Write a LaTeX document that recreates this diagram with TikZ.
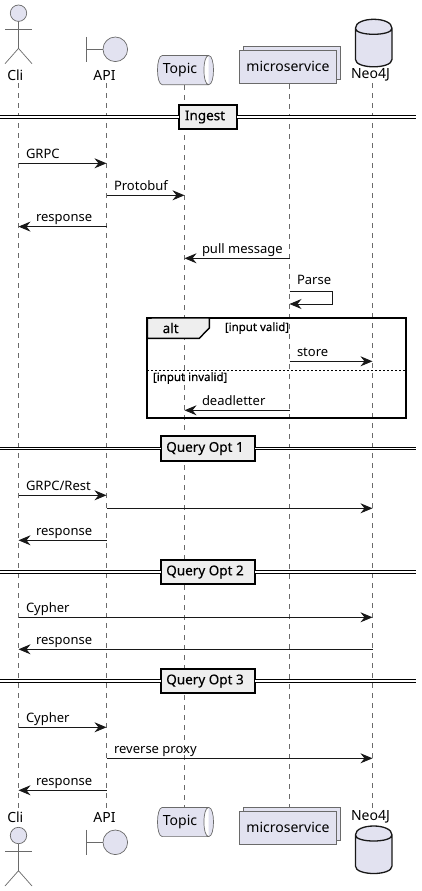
\documentclass[tikz,border=0pt]{standalone}
\usepackage{fontspec}
\setmainfont{Noto Sans}
\newfontfamily\heavyfont{Noto Sans}[FakeBold=0.35]
\usetikzlibrary{arrows.meta,shadows}

\definecolor{partfill}{HTML}{E2E2F0}
\definecolor{partline}{HTML}{6A6A6A}
\definecolor{inkline}{HTML}{181818}
\definecolor{sepfill}{HTML}{EEEEEE}

\tikzset{
	every node/.style={inner sep=0pt,outer sep=0pt,font=\fontsize{13}{15}\selectfont,text=black},
	partlabel/.style={font=\fontsize{14}{16}\selectfont},
	lifeline/.style={draw=partline,line width=.7pt,dash pattern=on 5pt off 5pt},
	msg/.style={draw=inkline,line width=1pt,-{Stealth[length=12pt,width=10pt,inset=4pt]}},
	msglabel/.style={anchor=base west,xshift=7.5pt,yshift=5pt},
	backlabel/.style={anchor=base west,xshift=17.5pt,yshift=5pt},
	divider/.style={draw=black,line width=1pt,double=white,double distance=1.6pt},
	sepbox/.style={draw=black,line width=1.8pt,fill=sepfill,font=\heavyfont\fontsize{13.5}{15}\selectfont,minimum height=24.5pt,execute at end node=\hspace{6pt}},
	guard/.style={font=\heavyfont\fontsize{11.5}{13}\selectfont},
	serviceshape/.style={draw=partline,line width=.7pt,fill=partfill,minimum width=97pt,minimum height=33pt,partlabel,
		copy shadow={fill=partfill,draw=partline,shadow xshift=4pt,shadow yshift=4pt}},
	pics/actor/.style={code={
		\node[circle,draw=partline,line width=.7pt,fill=partfill,minimum size=16.4pt] (#1) at (0,0) {};
		\draw[partline,line width=.7pt] (#1.south) -- ++(0,27) ++(-13.5,15.3) -- ++(13.5,-15.3) -- ++(13.5,15.3);
		\draw[partline,line width=.7pt] (-13.5,16) -- (13.5,16);
	}},
	pics/boundary/.style={code={
		\node[circle,draw=partline,line width=.7pt,fill=partfill,minimum size=24.6pt] (#1) at (8.8,0) {};
		\draw[partline,line width=.7pt] (-19.8,-12.5) -- (-19.8,12.5) (-19.8,0) -- (#1.west);
	}},
	pics/queue/.style={code={
		\draw[partline,line width=.7pt,fill=partfill] (-23.2,-14.6) -- (23.2,-14.6) .. controls (29.6,-14.6) and (29.6,14.6) .. (23.2,14.6)
			-- (-23.2,14.6) .. controls (-29.6,14.6) and (-29.6,-14.6) .. (-23.2,-14.6) -- cycle
			(23.2,-14.6) .. controls (16.8,-14.6) and (16.8,14.6) .. (23.2,14.6);
		\node[partlabel] (#1) at (-5.5,0) {Topic};
	}},
	pics/database/.style={code={
		\fill[partfill] (-18.3,9) .. controls (-18.3,-3) and (18.3,-3) .. (18.3,9) -- (18.3,40)
			.. controls (18.3,50) and (-18.3,50) .. (-18.3,40) -- cycle;
		\draw[inkline,line width=1.3pt] (-18.3,9) .. controls (-18.3,-3) and (18.3,-3) .. (18.3,9) -- (18.3,40)
			.. controls (18.3,50) and (-18.3,50) .. (-18.3,40) -- cycle
			(-18.3,9) .. controls (-18.3,17) and (18.3,17) .. (18.3,9);
	}},
}

\begin{document}
\begin{tikzpicture}[x=1pt,y=-1pt]
	\useasboundingbox[fill=white] (0,0) rectangle (421,891);

	% lifelines
	\coordinate (cli_t) at (18.5,83);
	\coordinate (cli_b) at (18.5,808);
	\coordinate (api_t) at (106.5,83);
	\coordinate (api_b) at (106.5,808);
	\coordinate (topic_t) at (184.5,85);
	\coordinate (topic_b) at (184.5,807);
	\coordinate (micro_t) at (289.5,84);
	\coordinate (micro_b) at (289.5,808);
	\coordinate (neo_t) at (372.5,83);
	\coordinate (neo_b) at (372.5,808);
	\foreach \who in {cli,api,topic,micro,neo}
		\draw[lifeline] (\who_t) -- (\who_b);

	% participants, top
	\pic at (18.5,13.2) {actor=cli_head};
	\node[partlabel] (cli_top) at (15.3,75) {Cli};
	\pic at (106.5,49.3) {boundary=api_head};
	\node[partlabel] (api_top) at (104.5,75) {API};
	\pic at (185.5,70.1) {queue=topic_top};
	\node[serviceshape] (micro_top) at (288,66.8) {microservice};
	\pic at (373.7,19.3) {database=neo_head};
	\node[partlabel] (neo_top) at (370.5,75) {Neo4J};

	% participants, bottom
	\pic at (18.5,835.5) {actor=cli_foot};
	\node[partlabel] (cli_bot) at (15.3,817) {Cli};
	\pic at (106.5,842.3) {boundary=api_foot};
	\node[partlabel] (api_bot) at (104.5,817) {API};
	\pic at (185.5,822) {queue=topic_bot};
	\node[serviceshape] (micro_bot) at (288,827.8) {microservice};
	\pic at (373.7,826) {database=neo_foot};
	\node[partlabel] (neo_bot) at (370.5,817) {Neo4J};

	% separators
	\coordinate (side_l) at (0,0);
	\coordinate (side_r) at (416,0);
	\node[sepbox,minimum width=58.5pt] (ingest) at (208,117) {Ingest};
	\node[sepbox,minimum width=94.5pt] (opt_a) at (208,448.5) {Query Opt 1};
	\node[sepbox,minimum width=94.5pt] (opt_b) at (208,572) {Query Opt 2};
	\node[sepbox,minimum width=94.5pt] (opt_c) at (208,681) {Query Opt 3};
	\foreach \sep in {ingest,opt_a,opt_b,opt_c} {
		\draw[divider] (side_l |- \sep) -- (\sep.west);
		\draw[divider] (\sep.east) -- (side_r |- \sep);
	}

	% alt frame
	\node[draw=black,line width=1.8pt,minimum width=258.4pt,minimum height=100.3pt] (alt_frame) at (276.5,368.2) {};
	\draw[black,line width=1.4pt,fill=sepfill] (alt_frame.north west) -- (209.3,318) -- (209.3,328) -- (199.3,338.3) -- (147.3,338.3) -- cycle;
	\node[font=\heavyfont\fontsize{13.5}{15}\selectfont] (alt_tag) at (170.7,328) {alt};
	\node[guard] (valid) at (257,328) {[input valid]};
	\node[guard,anchor=west] (invalid) at (153,378) {[input invalid]};
	\coordinate (alt_split) at (0,370);
	\draw[black,line width=.8pt,dash pattern=on 2pt off 2pt] (alt_frame.west |- alt_split) -- (alt_frame.east |- alt_split);

	% rows
	\foreach \row/\y in {m_a/163.3,m_b/195.3,m_c/226.6,m_d/258.3,m_e/291,m_f/304,m_g/361.3,m_h/410.3,
		m_i/495.3,m_j/508.3,m_k/540.3,m_l/617.3,m_m/649.3,m_n/727.3,m_o/758.3,m_p/790.3}
		\coordinate (\row) at (0,\y);

	% messages
	\draw[msg] (cli_t |- m_a) -- (api_t |- m_a) node[msglabel,pos=0] {GRPC};
	\draw[msg] (api_t |- m_b) -- (topic_t |- m_b) node[msglabel,pos=0] {Protobuf};
	\draw[msg] (api_t |- m_c) -- (cli_t |- m_c) node[backlabel,pos=1] {response};
	\draw[msg] (micro_t |- m_d) -- (topic_t |- m_d) node[backlabel,pos=1] {pull message};
	\draw[msg] (micro_t |- m_e) -| (332.5,304) -- (micro_t |- m_f);
	\node[anchor=base west] (parse) at (297,284) {Parse};
	\draw[msg] (micro_t |- m_g) -- (neo_t |- m_g) node[msglabel,pos=0] {store};
	\draw[msg] (micro_t |- m_h) -- (topic_t |- m_h) node[backlabel,pos=1] {deadletter};
	\draw[msg] (cli_t |- m_i) -- (api_t |- m_i) node[msglabel,pos=0] {GRPC/Rest};
	\draw[msg] (api_t |- m_j) -- (neo_t |- m_j);
	\draw[msg] (api_t |- m_k) -- (cli_t |- m_k) node[backlabel,pos=1] {response};
	\draw[msg] (cli_t |- m_l) -- (neo_t |- m_l) node[msglabel,pos=0] {Cypher};
	\draw[msg] (neo_t |- m_m) -- (cli_t |- m_m) node[backlabel,pos=1] {response};
	\draw[msg] (cli_t |- m_n) -- (api_t |- m_n) node[msglabel,pos=0] {Cypher};
	\draw[msg] (api_t |- m_o) -- (neo_t |- m_o) node[msglabel,pos=0] {reverse proxy};
	\draw[msg] (api_t |- m_p) -- (cli_t |- m_p) node[backlabel,pos=1] {response};
\end{tikzpicture}
\end{document}
